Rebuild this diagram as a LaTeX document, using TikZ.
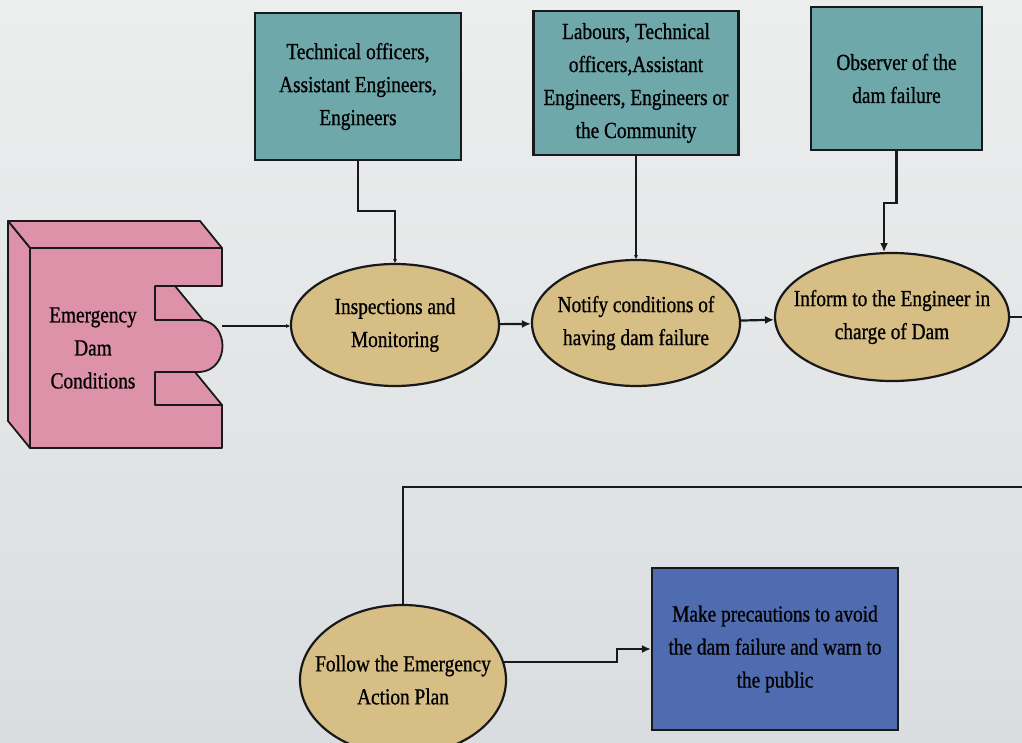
\documentclass[tikz,border=0pt]{standalone}
\usepackage{fontspec}
\setmainfont{Liberation Serif}[FakeStretch=0.84, FakeBold=0.8]
\usetikzlibrary{shapes.geometric,arrows.meta}
\definecolor{paperTop}{RGB}{236,238,238}
\definecolor{paperBot}{RGB}{218,221,223}
\definecolor{roleFill}{RGB}{110,168,170}
\definecolor{stepFill}{RGB}{214,190,132}
\definecolor{blockFill}{RGB}{222,146,170}
\definecolor{actFill}{RGB}{80,108,176}
\definecolor{ink}{RGB}{25,25,28}
\begin{document}
\begin{tikzpicture}[x=1pt,y=-1pt,
  txt/.style={font=\fontsize{23}{33}\selectfont, align=center, text=black},
  rolebox/.style={txt, draw=ink, line width=2.2pt, fill=roleFill, inner sep=0pt},
  actbox/.style={txt, draw=ink, line width=2.2pt, fill=actFill, inner sep=0pt},
  stepoval/.style={ellipse, draw=ink, line width=2.2pt, fill=stepFill, inner sep=0pt},
  inlabel/.style={label={[txt]center:#1}},
  conn/.style={draw=ink, line width=2.2pt},
  bigtip/.style={-{Latex[length=9pt,width=8pt]}},
  smalltip/.style={-{Stealth[length=4pt,width=4pt]}},
  face/.style={fill=blockFill, draw=ink, line width=1.8pt, line join=round}
]
% paper and frame
\useasboundingbox (0,0) rectangle (1022,742);
\clip (0,0) rectangle (1022,742);
\shade[top color=paperTop, bottom color=paperBot] (0,0) rectangle (1022,742);

% three-dimensional E-shaped block
\path[face] (30,248) -- (8,221) -- (200,221) -- (222,248) -- cycle;
\path[face] (30,248) -- (8,221) -- (8,421) -- (30,448) -- cycle;
\path[face] (155,286) -- (155,320) -- (203,320) -- (175,286) -- cycle;
\path[face] (155,372) -- (155,405) -- (222,405) -- (195,372) -- cycle;
\path[face] (30,248) -- (222,248) -- (222,286) -- (155,286) -- (155,320)
  -- (200,320) .. controls (230,322) and (230,370) .. (200,372)
  -- (155,372) -- (155,405) -- (222,405) -- (222,448) -- (30,448) -- cycle;
\node[txt] (emgtext) at (93,348) {Emergency\\Dam\\Conditions};
\coordinate (emgtip) at (222,326);

% roles
\node[rolebox, minimum width=206pt, minimum height=147pt] (r1) at (358,86.5)
  {Technical officers,\\Assistant Engineers,\\Engineers};
\node[rolebox, minimum width=205pt, minimum height=144pt] (r2) at (636,83)
  {Labours, Technical\\officers,Assistant\\Engineers, Engineers or\\the Community};
\node[rolebox, minimum width=171pt, minimum height=143pt] (r3) at (896.5,78.5)
  {Observer of the\\dam failure};

% process steps
\node[stepoval, minimum width=208pt, minimum height=122pt,
  inlabel={Inspections and\\Monitoring}] (insp) at (395,325) {};
\node[stepoval, minimum width=208pt, minimum height=126pt,
  inlabel={Notify conditions of\\having dam failure}] (notify) at (636,323) {};
\node[stepoval, minimum width=234pt, minimum height=128pt,
  inlabel={Inform to the Engineer in\\charge of Dam}] (inform) at (892,317) {};
\node[stepoval, minimum width=206pt, minimum height=150pt,
  label={[txt]center:{\raisebox{7pt}{\parbox{200pt}{\centering Follow the Emergency\\Action Plan}}}}] (follow) at (403,680) {};

% action
\node[actbox, minimum width=246pt, minimum height=162pt] (act) at (775,649)
  {Make precautions to avoid\\the dam failure and warn to\\the public};

% connectors
\coordinate (loop) at (1045,487);
\draw[conn, smalltip] (emgtip) -- (emgtip -| insp.west);
\draw[conn, bigtip] (insp) -- (notify);
\draw[conn, bigtip] (notify) -- (inform);
\draw[conn, smalltip] (r1.south) -- ++(0,50) -| (insp.north);
\draw[conn, smalltip] (r2.south) -- (notify.north);
\draw[conn, bigtip] (r3.south) -- ++(0,52) -| (inform.97);
\draw[conn] (inform.east) -| (loop) -| (follow.north);
\draw[conn, bigtip] (follow.10) -- ++(113,0) |- (act.west);
\end{tikzpicture}
\end{document}
